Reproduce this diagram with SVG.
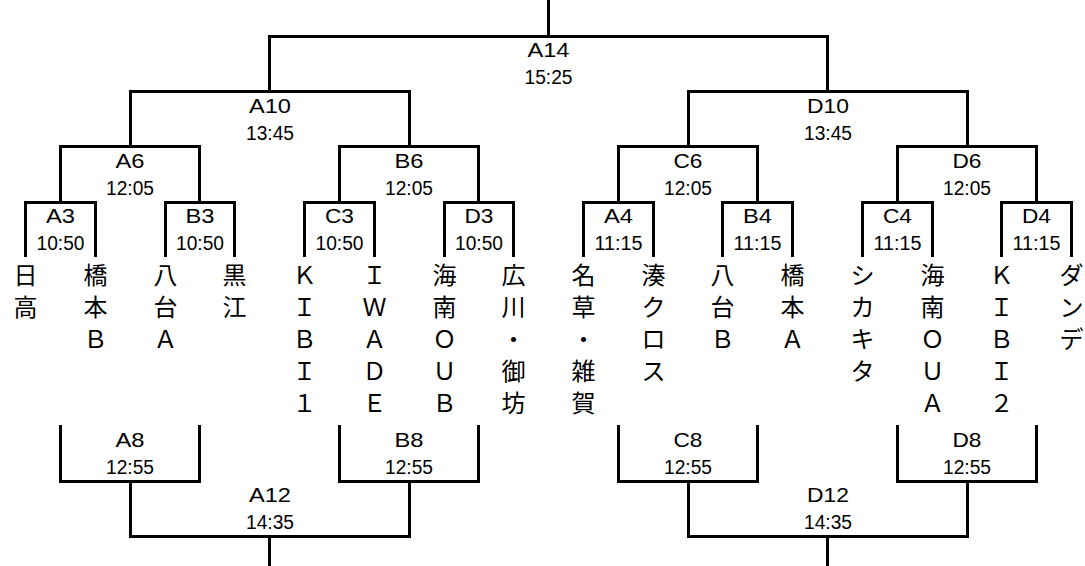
<svg xmlns="http://www.w3.org/2000/svg" width="1085" height="566" viewBox="0 0 1085 566">
<style>
.c{fill:none;stroke:#000;stroke-width:3;stroke-linejoin:miter}
.l{font-family:"Liberation Sans","Noto Sans CJK JP",sans-serif;font-size:21px;text-anchor:middle;fill:#000}
.t{font-family:"Liberation Sans","Noto Sans CJK JP",sans-serif;font-size:20px;text-anchor:middle;fill:#000}
.n{font-family:"Noto Sans CJK JP",sans-serif;font-size:24px;text-anchor:middle;fill:#000}
</style>
<rect width="1085" height="566" fill="#fff"/>
<g id="connectors" class="c">
<path d="M548.5 0V36.5"/>
<path d="M269.5 91.5V36.5H827.5V91.5"/>
<path d="M130.5 146.5V91.5H409.5V146.5"/>
<path d="M688.5 146.5V91.5H967.5V146.5"/>
<path d="M60.5 202.5V146.5H199.5V202.5"/>
<path d="M339.5 202.5V146.5H478.5V202.5"/>
<path d="M618.5 202.5V146.5H757.5V202.5"/>
<path d="M897.5 202.5V146.5H1036.5V202.5"/>
<path d="M25.5 257V202.5H95.5V257"/>
<path d="M165.5 257V202.5H234.5V257"/>
<path d="M304.5 257V202.5H374.5V257"/>
<path d="M444.5 257V202.5H513.5V257"/>
<path d="M583.5 257V202.5H653.5V257"/>
<path d="M722.5 257V202.5H792.5V257"/>
<path d="M862.5 257V202.5H932.5V257"/>
<path d="M1001.5 257V202.5H1071.5V257"/>
<path d="M60.5 425V481.5H199.5V425"/>
<path d="M339.5 425V481.5H478.5V425"/>
<path d="M618.5 425V481.5H757.5V425"/>
<path d="M897.5 425V481.5H1036.5V425"/>
<path d="M130.5 481.5V536.5H409.5V481.5"/>
<path d="M688.5 481.5V536.5H967.5V481.5"/>
<path d="M269.5 536.5V566"/>
<path d="M827.5 536.5V566"/>
</g>
<g id="match-A14"><text class="l" x="548.5" y="57" textLength="42" lengthAdjust="spacingAndGlyphs">A14</text><text class="t" x="548.5" y="84" textLength="48" lengthAdjust="spacingAndGlyphs">15:25</text></g>
<g id="match-A10"><text class="l" x="270" y="113" textLength="42" lengthAdjust="spacingAndGlyphs">A10</text><text class="t" x="270" y="140" textLength="48" lengthAdjust="spacingAndGlyphs">13:45</text></g>
<g id="match-D10"><text class="l" x="828" y="113" textLength="42" lengthAdjust="spacingAndGlyphs">D10</text><text class="t" x="828" y="140" textLength="48" lengthAdjust="spacingAndGlyphs">13:45</text></g>
<g id="match-A6"><text class="l" x="130" y="168" textLength="29" lengthAdjust="spacingAndGlyphs">A6</text><text class="t" x="130" y="195" textLength="48" lengthAdjust="spacingAndGlyphs">12:05</text></g>
<g id="match-B6"><text class="l" x="409" y="168" textLength="29" lengthAdjust="spacingAndGlyphs">B6</text><text class="t" x="409" y="195" textLength="48" lengthAdjust="spacingAndGlyphs">12:05</text></g>
<g id="match-C6"><text class="l" x="688" y="168" textLength="29" lengthAdjust="spacingAndGlyphs">C6</text><text class="t" x="688" y="195" textLength="48" lengthAdjust="spacingAndGlyphs">12:05</text></g>
<g id="match-D6"><text class="l" x="967" y="168" textLength="29" lengthAdjust="spacingAndGlyphs">D6</text><text class="t" x="967" y="195" textLength="48" lengthAdjust="spacingAndGlyphs">12:05</text></g>
<g id="match-A3"><text class="l" x="60.5" y="223" textLength="29" lengthAdjust="spacingAndGlyphs">A3</text><text class="t" x="60.5" y="250" textLength="48" lengthAdjust="spacingAndGlyphs">10:50</text></g>
<g id="match-B3"><text class="l" x="200" y="223" textLength="29" lengthAdjust="spacingAndGlyphs">B3</text><text class="t" x="200" y="250" textLength="48" lengthAdjust="spacingAndGlyphs">10:50</text></g>
<g id="match-C3"><text class="l" x="339.5" y="223" textLength="29" lengthAdjust="spacingAndGlyphs">C3</text><text class="t" x="339.5" y="250" textLength="48" lengthAdjust="spacingAndGlyphs">10:50</text></g>
<g id="match-D3"><text class="l" x="479" y="223" textLength="29" lengthAdjust="spacingAndGlyphs">D3</text><text class="t" x="479" y="250" textLength="48" lengthAdjust="spacingAndGlyphs">10:50</text></g>
<g id="match-A4"><text class="l" x="618.5" y="223" textLength="29" lengthAdjust="spacingAndGlyphs">A4</text><text class="t" x="618.5" y="250" textLength="48" lengthAdjust="spacingAndGlyphs">11:15</text></g>
<g id="match-B4"><text class="l" x="757.5" y="223" textLength="29" lengthAdjust="spacingAndGlyphs">B4</text><text class="t" x="757.5" y="250" textLength="48" lengthAdjust="spacingAndGlyphs">11:15</text></g>
<g id="match-C4"><text class="l" x="897.5" y="223" textLength="29" lengthAdjust="spacingAndGlyphs">C4</text><text class="t" x="897.5" y="250" textLength="48" lengthAdjust="spacingAndGlyphs">11:15</text></g>
<g id="match-D4"><text class="l" x="1036.5" y="223" textLength="29" lengthAdjust="spacingAndGlyphs">D4</text><text class="t" x="1036.5" y="250" textLength="48" lengthAdjust="spacingAndGlyphs">11:15</text></g>
<g id="match-A8"><text class="l" x="130" y="447" textLength="29" lengthAdjust="spacingAndGlyphs">A8</text><text class="t" x="130" y="474" textLength="48" lengthAdjust="spacingAndGlyphs">12:55</text></g>
<g id="match-B8"><text class="l" x="409" y="447" textLength="29" lengthAdjust="spacingAndGlyphs">B8</text><text class="t" x="409" y="474" textLength="48" lengthAdjust="spacingAndGlyphs">12:55</text></g>
<g id="match-C8"><text class="l" x="688" y="447" textLength="29" lengthAdjust="spacingAndGlyphs">C8</text><text class="t" x="688" y="474" textLength="48" lengthAdjust="spacingAndGlyphs">12:55</text></g>
<g id="match-D8"><text class="l" x="967" y="447" textLength="29" lengthAdjust="spacingAndGlyphs">D8</text><text class="t" x="967" y="474" textLength="48" lengthAdjust="spacingAndGlyphs">12:55</text></g>
<g id="match-A12"><text class="l" x="270" y="502" textLength="42" lengthAdjust="spacingAndGlyphs">A12</text><text class="t" x="270" y="529" textLength="48" lengthAdjust="spacingAndGlyphs">14:35</text></g>
<g id="match-D12"><text class="l" x="828" y="502" textLength="42" lengthAdjust="spacingAndGlyphs">D12</text><text class="t" x="828" y="529" textLength="48" lengthAdjust="spacingAndGlyphs">14:35</text></g>
<g id="team-1"><text class="n" x="25.5" y="284"><tspan x="25.5" y="284">日</tspan><tspan x="25.5" y="316">高</tspan></text></g>
<g id="team-2"><text class="n" x="95.5" y="284"><tspan x="95.5" y="284">橋</tspan><tspan x="95.5" y="316">本</tspan><tspan x="95.5" y="348">Ｂ</tspan></text></g>
<g id="team-3"><text class="n" x="165.5" y="284"><tspan x="165.5" y="284">八</tspan><tspan x="165.5" y="316">台</tspan><tspan x="165.5" y="348">Ａ</tspan></text></g>
<g id="team-4"><text class="n" x="234.5" y="284"><tspan x="234.5" y="284">黒</tspan><tspan x="234.5" y="316">江</tspan></text></g>
<g id="team-5"><text class="n" x="304.5" y="284"><tspan x="304.5" y="284">Ｋ</tspan><tspan x="304.5" y="316">Ｉ</tspan><tspan x="304.5" y="348">Ｂ</tspan><tspan x="304.5" y="380">Ｉ</tspan><tspan x="304.5" y="412">１</tspan></text></g>
<g id="team-6"><text class="n" x="374.5" y="284"><tspan x="374.5" y="284">Ｉ</tspan><tspan x="374.5" y="316">Ｗ</tspan><tspan x="374.5" y="348">Ａ</tspan><tspan x="374.5" y="380">Ｄ</tspan><tspan x="374.5" y="412">Ｅ</tspan></text></g>
<g id="team-7"><text class="n" x="444.5" y="284"><tspan x="444.5" y="284">海</tspan><tspan x="444.5" y="316">南</tspan><tspan x="444.5" y="348">Ｏ</tspan><tspan x="444.5" y="380">Ｕ</tspan><tspan x="444.5" y="412">Ｂ</tspan></text></g>
<g id="team-8"><text class="n" x="513.5" y="284"><tspan x="513.5" y="284">広</tspan><tspan x="513.5" y="316">川</tspan><tspan x="513.5" y="348">・</tspan><tspan x="513.5" y="380">御</tspan><tspan x="513.5" y="412">坊</tspan></text></g>
<g id="team-9"><text class="n" x="583.5" y="284"><tspan x="583.5" y="284">名</tspan><tspan x="583.5" y="316">草</tspan><tspan x="583.5" y="348">・</tspan><tspan x="583.5" y="380">雑</tspan><tspan x="583.5" y="412">賀</tspan></text></g>
<g id="team-10"><text class="n" x="653.5" y="284"><tspan x="653.5" y="284">湊</tspan><tspan x="653.5" y="316">ク</tspan><tspan x="653.5" y="348">ロ</tspan><tspan x="653.5" y="380">ス</tspan></text></g>
<g id="team-11"><text class="n" x="722.5" y="284"><tspan x="722.5" y="284">八</tspan><tspan x="722.5" y="316">台</tspan><tspan x="722.5" y="348">Ｂ</tspan></text></g>
<g id="team-12"><text class="n" x="792.5" y="284"><tspan x="792.5" y="284">橋</tspan><tspan x="792.5" y="316">本</tspan><tspan x="792.5" y="348">Ａ</tspan></text></g>
<g id="team-13"><text class="n" x="862.5" y="284"><tspan x="862.5" y="284">シ</tspan><tspan x="862.5" y="316">カ</tspan><tspan x="862.5" y="348">キ</tspan><tspan x="862.5" y="380">タ</tspan></text></g>
<g id="team-14"><text class="n" x="932.5" y="284"><tspan x="932.5" y="284">海</tspan><tspan x="932.5" y="316">南</tspan><tspan x="932.5" y="348">Ｏ</tspan><tspan x="932.5" y="380">Ｕ</tspan><tspan x="932.5" y="412">Ａ</tspan></text></g>
<g id="team-15"><text class="n" x="1001.5" y="284"><tspan x="1001.5" y="284">Ｋ</tspan><tspan x="1001.5" y="316">Ｉ</tspan><tspan x="1001.5" y="348">Ｂ</tspan><tspan x="1001.5" y="380">Ｉ</tspan><tspan x="1001.5" y="412">２</tspan></text></g>
<g id="team-16"><text class="n" x="1071.5" y="284"><tspan x="1071.5" y="284">ダ</tspan><tspan x="1071.5" y="316">ン</tspan><tspan x="1071.5" y="348">デ</tspan></text></g>
</svg>
